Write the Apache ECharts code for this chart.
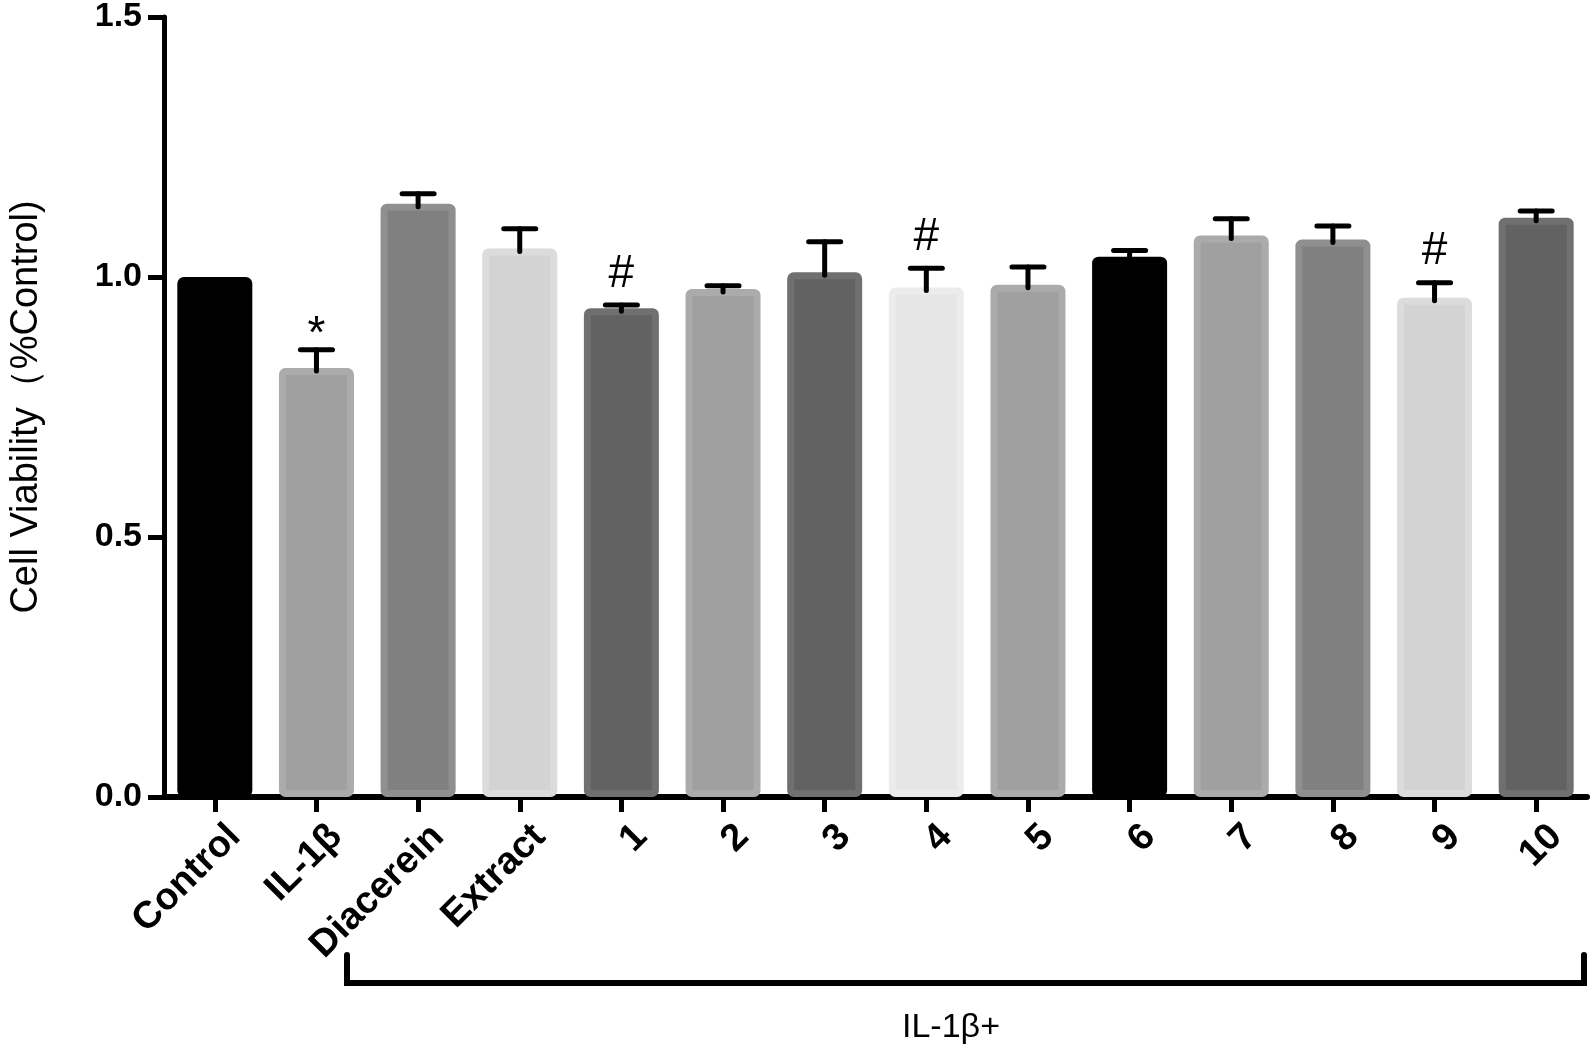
<!DOCTYPE html>
<html>
<head>
<meta charset="utf-8">
<script src="https://cdn.jsdelivr.net/npm/echarts@6/dist/echarts.min.js"></script>
<style>
  html, body { margin: 0; padding: 0; background: #fff; }
  #chart { width: 1595px; height: 1048px; }
</style>
</head>
<body>
<div id="chart"></div>
<script>
// ---- data ----
const categories = ['Control', 'IL-1β', 'Diacerein', 'Extract', '1', '2', '3', '4', '5', '6', '7', '8', '9', '10'];
const viability = [1.000, 0.825, 1.141, 1.055, 0.940, 0.977, 1.009, 0.980, 0.985, 1.039, 1.080, 1.072, 0.960, 1.114];
const sem = [0, 0.035, 0.019, 0.038, 0.006, 0.006, 0.059, 0.037, 0.034, 0.012, 0.032, 0.026, 0.029, 0.013];
const marks = ['', '*', '', '', '#', '', '', '#', '', '', '', '', '#', ''];
const fillColors = ['#000000', '#a0a0a0', '#808080', '#d3d3d3', '#626262', '#a0a0a0', '#626262', '#e6e6e6', '#a0a0a0', '#000000', '#a0a0a0', '#808080', '#d3d3d3', '#626262'];
const edgeColors = ['#000000', '#ababab', '#8f8f8f', '#dcdcdc', '#707070', '#ababab', '#707070', '#ececec', '#ababab', '#000000', '#ababab', '#8f8f8f', '#dcdcdc', '#707070'];
const yTickLabels = ['0.0', '0.5', '1.0', '1.5'];
const yAxisTitle = 'Cell Viability（%Control)';
const groupLabel = 'IL-1β+';

const FONT = '"Liberation Sans", Arial, Helvetica, sans-serif';

const chart = echarts.init(document.getElementById('chart'), null, { renderer: 'canvas' });

const option = {
  animation: false,
  backgroundColor: '#ffffff',
  grid: { left: 156, right: 8, top: 14, bottom: 251, containLabel: false },
  xAxis: {
    type: 'category',
    data: categories,
    axisLine: { show: true, lineStyle: { color: '#000', width: 6 } },
    axisTick: { show: true, alignWithLabel: true, length: 15, lineStyle: { color: '#000', width: 5 } },
    axisLabel: {
      interval: 0,
      rotate: 45,
      align: 'right',
      verticalAlign: 'top',
      padding: [9, 0, 0, 0],
      margin: 14,
      fontSize: 38,
      fontWeight: 'bold',
      fontFamily: FONT,
      color: '#000'
    },
    splitLine: { show: false }
  },
  yAxis: {
    type: 'value',
    min: 0,
    max: 1.5,
    interval: 0.5,
    name: yAxisTitle,
    nameLocation: 'middle',
    nameRotate: 90,
    nameGap: 118,
    nameTextStyle: { fontSize: 38, fontFamily: FONT, color: '#000' },
    axisLine: { show: true, lineStyle: { color: '#000', width: 5 } },
    axisTick: { show: true, length: 16, lineStyle: { color: '#000', width: 5 } },
    axisLabel: {
      margin: 22,
      fontSize: 34,
      fontWeight: 'bold',
      fontFamily: FONT,
      color: '#000',
      formatter: function (v) {
        const idx = Math.round(v / 0.5);
        return yTickLabels[idx] !== undefined ? yTickLabels[idx] : String(v);
      }
    },
    splitLine: { show: false }
  },
  series: [
    {
      type: 'bar',
      barWidth: 75,
      data: viability.map((v, i) => ({
        value: v,
        itemStyle: { color: fillColors[i], borderColor: edgeColors[i] }
      })),
      itemStyle: { borderWidth: 7, borderRadius: 3 },
      z: 2
    },
    {
      type: 'custom',
      z: 5,
      data: viability.map((v, i) => [i, v, sem[i]]),
      renderItem: function (params, api) {
        const i = api.value(0);
        const mean = api.value(1);
        const err = api.value(2);
        const children = [];
        const base = api.coord([i, mean]);
        const top = api.coord([i, mean + err]);
        if (err > 0) {
          children.push({
            type: 'line',
            shape: { x1: base[0], y1: base[1] + 3, x2: top[0], y2: top[1] },
            style: { stroke: '#000', lineWidth: 5, lineCap: 'round' }
          });
          children.push({
            type: 'line',
            shape: { x1: top[0] - 16, y1: top[1], x2: top[0] + 16, y2: top[1] },
            style: { stroke: '#000', lineWidth: 5, lineCap: 'round' }
          });
        }
        const m = marks[i];
        if (m) {
          const dy = m === '*' ? 14 : 31;
          children.push({
            type: 'text',
            style: {
              text: m,
              x: top[0],
              y: top[1] - dy,
              align: 'center',
              verticalAlign: 'middle',
              font: '46px ' + FONT,
              fill: '#000'
            }
          });
        }
        return { type: 'group', children: children };
      }
    }
  ],
  graphic: [
    {
      type: 'polyline',
      shape: { points: [[347, 955], [347, 983], [1584, 983], [1584, 955]] },
      style: { stroke: '#000', lineWidth: 6, fill: null, lineJoin: 'miter', lineCap: 'round' }
    },
    {
      type: 'text',
      style: {
        text: groupLabel,
        x: 951,
        y: 1028,
        align: 'center',
        verticalAlign: 'middle',
        font: '34px ' + FONT,
        fill: '#000'
      }
    }
  ]
};

chart.setOption(option);
</script>
</body>
</html>
